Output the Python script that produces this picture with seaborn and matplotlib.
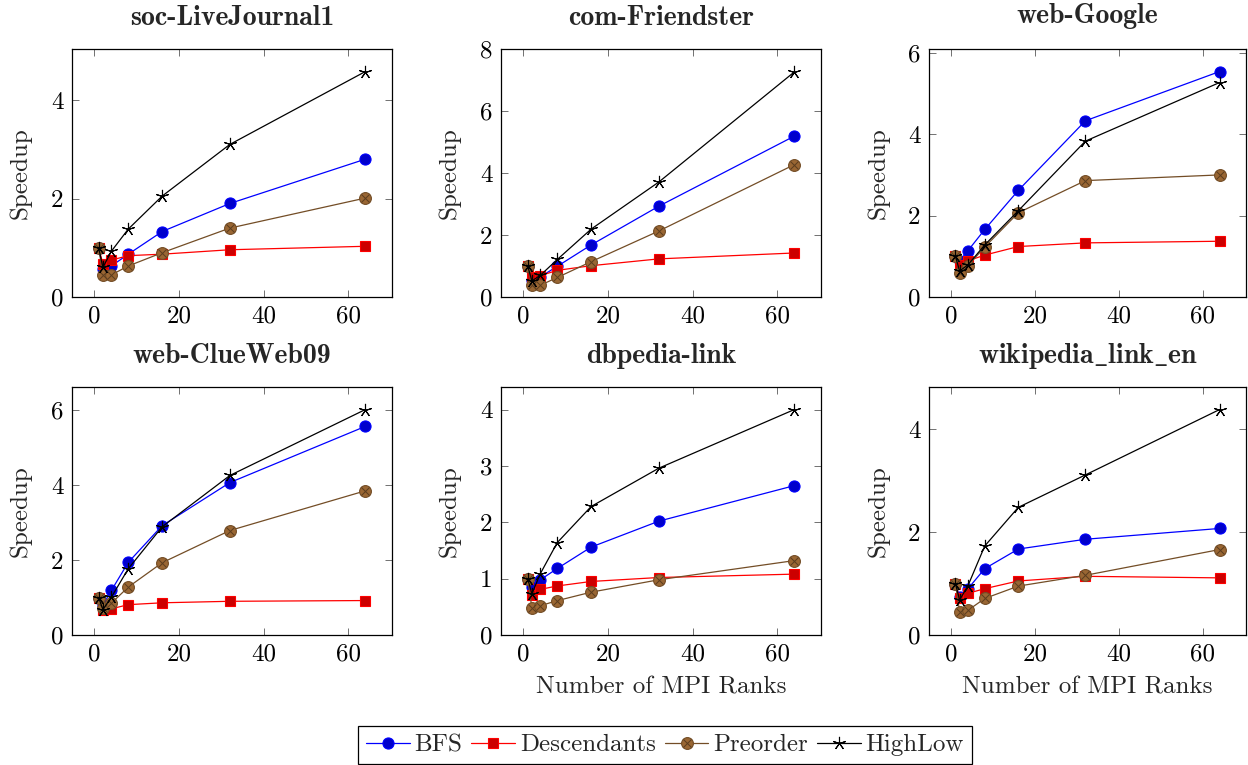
import numpy as np
import pandas as pd
import matplotlib
matplotlib.use("Agg")
import matplotlib.pyplot as plt
from matplotlib.legend_handler import HandlerTuple
import seaborn as sns

# MPI rank counts on the x axis
ranks = [1, 2, 4, 8, 16, 32, 64]

# Speedup per graph and algorithm
lj_bfs = [1.0, 0.57, 0.63, 0.87, 1.33, 1.90, 2.80]
lj_desc = [1.0, 0.67, 0.75, 0.84, 0.87, 0.96, 1.03]
lj_pre = [1.0, 0.45, 0.45, 0.63, 0.90, 1.40, 2.01]
lj_hl = [1.0, 0.60, 0.93, 1.38, 2.05, 3.10, 4.58]

fr_bfs = [1.0, 0.55, 0.65, 0.99, 1.68, 2.93, 5.19]
fr_desc = [1.0, 0.65, 0.69, 0.86, 1.01, 1.23, 1.42]
fr_pre = [1.0, 0.38, 0.38, 0.63, 1.14, 2.13, 4.27]
fr_hl = [1.0, 0.52, 0.70, 1.21, 2.19, 3.71, 7.26]

gg_bfs = [1.0, 0.89, 1.14, 1.66, 2.62, 4.33, 5.54]
gg_desc = [1.0, 0.79, 0.89, 1.03, 1.24, 1.33, 1.37]
gg_pre = [1.0, 0.60, 0.77, 1.23, 2.07, 2.86, 3.00]
gg_hl = [1.0, 0.64, 0.79, 1.28, 2.12, 3.83, 5.27]

cw_bfs = [1.0, 0.80, 1.19, 1.94, 2.92, 4.07, 5.57]
cw_desc = [1.0, 0.68, 0.70, 0.81, 0.86, 0.90, 0.92]
cw_pre = [1.0, 0.72, 0.85, 1.28, 1.93, 2.79, 3.85]
cw_hl = [1.0, 0.68, 1.01, 1.77, 2.89, 4.26, 6.02]

db_bfs = [1.0, 0.85, 0.98, 1.18, 1.56, 2.02, 2.65]
db_desc = [1.0, 0.71, 0.81, 0.87, 0.95, 1.02, 1.08]
db_pre = [1.0, 0.48, 0.52, 0.61, 0.76, 0.98, 1.32]
db_hl = [1.0, 0.73, 1.09, 1.64, 2.28, 2.96, 4.00]

wk_bfs = [1.0, 0.74, 0.90, 1.29, 1.67, 1.86, 2.07]
wk_desc = [1.0, 0.71, 0.81, 0.90, 1.05, 1.14, 1.11]
wk_pre = [1.0, 0.45, 0.48, 0.71, 0.95, 1.16, 1.66]
wk_hl = [1.0, 0.68, 0.96, 1.73, 2.48, 3.11, 4.38]

graph_names = ["soc-LiveJournal1", "com-Friendster", "web-Google",
               "web-ClueWeb09", "dbpedia-link", "wikipedia_link_en"]
methods = ["BFS", "Descendants", "Preorder", "HighLow"]
panel_series = [
    [lj_bfs, lj_desc, lj_pre, lj_hl],
    [fr_bfs, fr_desc, fr_pre, fr_hl],
    [gg_bfs, gg_desc, gg_pre, gg_hl],
    [cw_bfs, cw_desc, cw_pre, cw_hl],
    [db_bfs, db_desc, db_pre, db_hl],
    [wk_bfs, wk_desc, wk_pre, wk_hl],
]
x_ticks = [0, 20, 40, 60]
y_ticks = [[0, 2, 4], [0, 2, 4, 6, 8], [0, 2, 4, 6],
           [0, 2, 4, 6], [0, 1, 2, 3, 4], [0, 2, 4]]

sns.set_style("ticks")
plt.rcParams.update({
    "font.family": ["cmr10", "DejaVu Serif"],
    "mathtext.fontset": "cm",
    "axes.formatter.use_mathtext": True,
    "font.size": 18,
    "axes.linewidth": 0.9,
    "xtick.direction": "in",
    "ytick.direction": "in",
    "xtick.top": True,
    "ytick.right": True,
    "xtick.major.size": 5,
    "ytick.major.size": 5,
    "xtick.major.width": 0.6,
    "ytick.major.width": 0.6,
    "xtick.color": "0.35",
    "ytick.color": "0.35",
    "xtick.labelcolor": "black",
    "ytick.labelcolor": "black",
    "xtick.labelsize": 18,
    "ytick.labelsize": 18,
    "axes.edgecolor": "black",
})


def set_bold_title(ax, text, pad):
    # Bold Computer Modern; names with underscores go through mathtext so the
    # underscore is drawn as a low line
    if "_" in text:
        ax.set_title(r"$\mathbf{" + text.replace("_", r"\_") + "}$",
                     fontsize=20, pad=pad)
    else:
        ax.set_title(text, fontfamily=["cmb10", "DejaVu Serif"],
                     fontsize=20, pad=pad)


# Line / mark styles of the four algorithms
styles = {
    "BFS": dict(color="#0000FF", marker="o", mfc="#0000CC", mec="#0000FF", ms=8.0),
    "Descendants": dict(color="#FF0000", marker="s", mfc="#CC0000", mec="#FF0000", ms=7.5),
    "Preorder": dict(color="#734D26", marker="o", mfc="#996633", mec="#734D26", ms=8.5),
    "HighLow": dict(color="black", marker=(5, 2, 0), mfc="black", mec="black", ms=9.5),
}

fig = plt.figure(figsize=(12.48, 7.65), dpi=100)
W, H = 1248.0, 765.0
col_px = [(72, 392), (501, 821), (929, 1246)]
row_px = [(49, 297), (387, 635)]
title_pad = [17, 17, 19, 17, 17, 17]

handles = {}
for idx, (name, series) in enumerate(zip(graph_names, panel_series)):
    r, c = divmod(idx, 3)
    x0, x1 = col_px[c]
    y0, y1 = row_px[r]
    ax = fig.add_axes([x0 / W, 1 - y1 / H, (x1 - x0) / W, (y1 - y0) / H])
    ymax = 0.0
    for m, vals in zip(methods, series):
        st = styles[m]
        df = pd.DataFrame({"ranks": ranks, "speedup": vals})
        sns.lineplot(data=df, x="ranks", y="speedup", ax=ax, color=st["color"],
                     marker=st["marker"], markersize=st["ms"],
                     markerfacecolor=st["mfc"], markeredgecolor=st["mec"],
                     markeredgewidth=0.8, linewidth=0.9, legend=False)
        line = ax.lines[-1]
        if m == "Preorder":
            cross, = ax.plot(ranks, vals, linestyle="none", marker="x",
                             markersize=st["ms"] * 0.62, color="#5a3c1e",
                             markeredgewidth=0.7)
            handles[m] = (line, cross)
        else:
            handles[m] = line
        ymax = max(ymax, max(vals))

    span = ranks[-1] - ranks[0]
    ax.set_xlim(ranks[0] - 0.1 * span, ranks[-1] + 0.1 * span)
    ax.set_ylim(0, ymax * 1.1)
    ax.set_xticks(x_ticks)
    ax.set_xticklabels([str(t) for t in x_ticks])
    ax.set_yticks(y_ticks[idx])
    ax.set_yticklabels([str(t) for t in y_ticks[idx]])
    ax.tick_params(axis="both", pad=6)
    set_bold_title(ax, name, title_pad[idx])
    ax.set_ylabel("Speedup", fontsize=18)
    ax.yaxis.set_label_coords(-0.125, 0.5)
    if idx in (4, 5):
        ax.set_xlabel("Number of MPI Ranks", fontsize=18, labelpad=8)
    else:
        ax.set_xlabel("")

leg = fig.legend([handles[m] for m in methods], methods,
                 handler_map={tuple: HandlerTuple(ndivide=1, pad=0)},
                 loc="center", bbox_to_anchor=(665 / W, 1 - 745 / H), ncol=4,
                 frameon=True, fancybox=False, edgecolor="black", framealpha=1,
                 handlelength=1.75, handletextpad=0.2, columnspacing=0.35,
                 borderpad=0.3, fontsize=18)
leg.get_frame().set_linewidth(0.9)

fig.savefig("out.png", dpi=100)
